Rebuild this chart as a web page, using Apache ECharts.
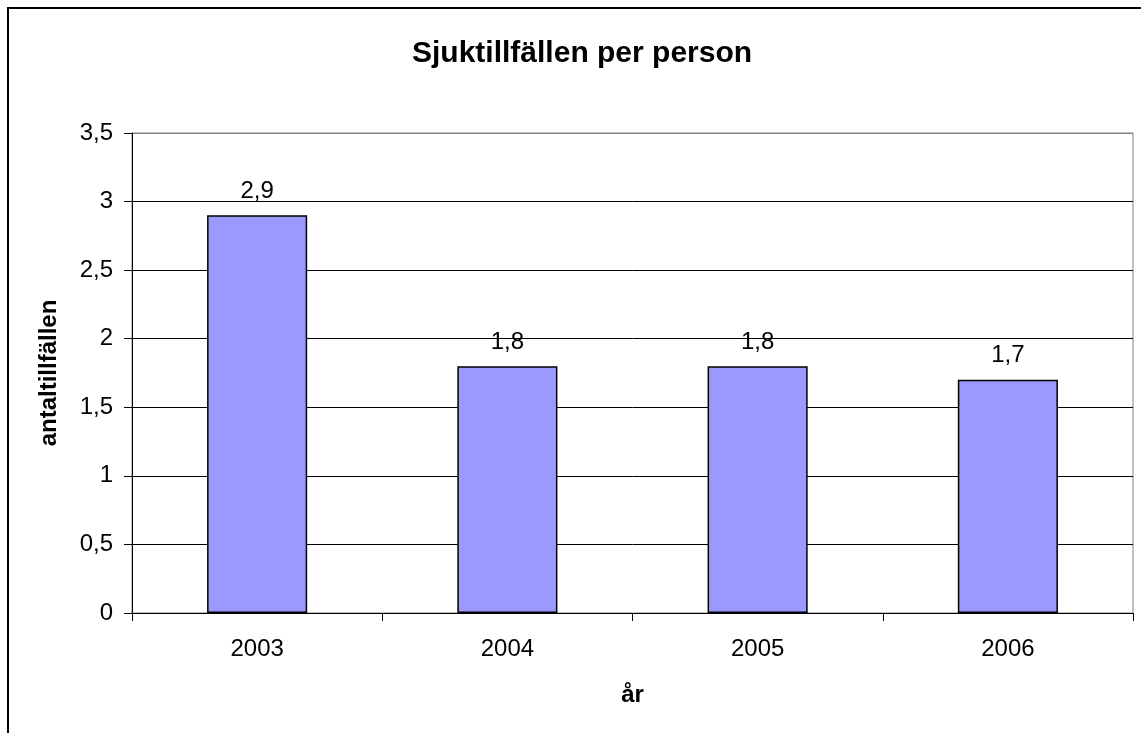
<!DOCTYPE html>
<html>
<head>
<meta charset="utf-8">
<script src="https://cdn.jsdelivr.net/npm/echarts@6/dist/echarts.min.js"></script>
<style>
html,body{margin:0;padding:0;background:#fff;}
#chart{width:1141px;height:733px;}
</style>
</head>
<body>
<div id="chart"></div>
<script>
var categories = ['2003', '2004', '2005', '2006'];
var values = [2.9, 1.8, 1.8, 1.7];
var yTicks = [0, 0.5, 1, 1.5, 2, 2.5, 3, 3.5];

var FONT = '"Liberation Sans", Arial, sans-serif';
function comma(v) { return String(v).replace('.', ','); }

var chart = echarts.init(document.getElementById('chart'), null, {renderer: 'canvas'});
chart.setOption({
  backgroundColor: '#fff',
  animation: false,
  textStyle: {fontFamily: FONT},
  graphic: [{
    type: 'rect',
    shape: {x: 8, y: 8, width: 1200, height: 800},
    style: {fill: 'none', stroke: '#000', lineWidth: 2},
    silent: true
  }],
  title: {
    text: 'Sjuktillfällen per person',
    left: 407,
    top: 34,
    textStyle: {fontFamily: FONT, fontSize: 30, fontWeight: 'bold', color: '#000'}
  },
  grid: {
    left: 132, top: 133, right: 8, bottom: 120,
    show: true, borderColor: '#808080', borderWidth: 1, backgroundColor: '#fff'
  },
  xAxis: {
    type: 'category',
    data: categories,
    name: 'år',
    nameLocation: 'middle',
    nameGap: 70,
    nameTextStyle: {fontFamily: FONT, fontSize: 24, fontWeight: 'bold', color: '#000'},
    axisLine: {lineStyle: {color: '#000', width: 1}},
    axisTick: {show: true, length: 8, lineStyle: {color: '#000'}},
    axisLabel: {fontFamily: FONT, fontSize: 24, color: '#000', margin: 24}
  },
  yAxis: {
    type: 'value',
    min: yTicks[0],
    max: yTicks[yTicks.length - 1],
    interval: 0.5,
    name: 'antaltillfällen',
    nameLocation: 'middle',
    nameGap: 71,
    nameTextStyle: {fontFamily: FONT, fontSize: 24, fontWeight: 'bold', color: '#000'},
    axisLine: {show: true, lineStyle: {color: '#000', width: 1}},
    axisTick: {show: true, length: 8, lineStyle: {color: '#000'}},
    axisLabel: {fontFamily: FONT, fontSize: 24, color: '#000', margin: 19, formatter: function (v) { return comma(v); }},
    splitLine: {show: true, lineStyle: {color: ['#000', '#000', '#000', '#000', '#000', '#000', '#000', '#808080'], width: 1}}
  },
  series: [{
    type: 'bar',
    data: values,
    barWidth: '40%',
    itemStyle: {color: '#9999FF', borderColor: '#000', borderWidth: 1.5},
    label: {
      show: true,
      position: 'top',
      distance: 12,
      fontFamily: FONT,
      fontSize: 24,
      color: '#000',
      formatter: function (p) { return comma(p.value); }
    }
  }]
});
</script>
</body>
</html>
